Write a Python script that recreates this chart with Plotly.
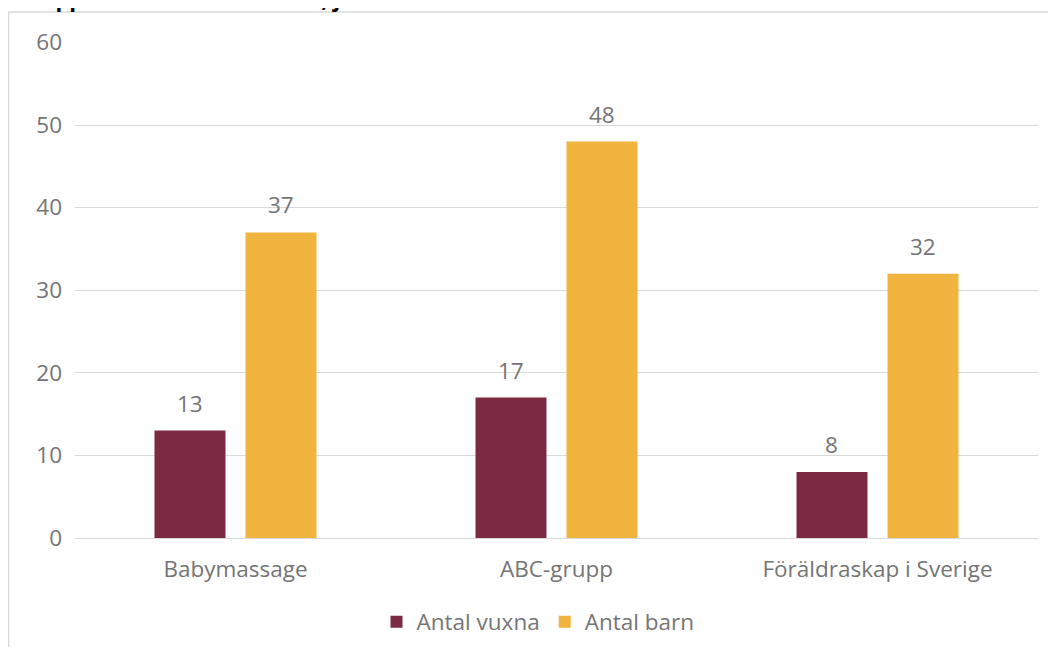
import plotly.graph_objects as go

categories = ["Babymassage", "ABC-grupp", "Föräldraskap i Sverige"]
vuxna = [13, 17, 8]
barn = [37, 48, 32]
series_names = ["Antal vuxna", "Antal barn"]
y_ticks = [0, 10, 20, 30, 40, 50, 60]
title_text = "Grupper och antal besökare, januari–mars 2024"

FONT = "'Open Sans', Lato, sans-serif"
GRAY = "#757575"
COLORS = ["#7B2A42", "#F1B43E"]
FS = 22.5

# page body has an 8px margin: figure sized/positioned to compensate
W, Hfig = 1040, 639
L, R, T, B = 67, 10, 34, 109
PW = W - L - R
PH = Hfig - T - B
BARGAP, GROUPGAP = 0.433, 0.22
slot = PW / len(categories) * (1 - BARGAP) / 2

fig = go.Figure()
for name, vals, col in [(series_names[0], vuxna, COLORS[0]), (series_names[1], barn, COLORS[1])]:
    fig.add_trace(go.Bar(x=categories, y=vals, name=name, marker_color=col,
                         marker_line_width=0))

annotations = []
for i, vals in enumerate([vuxna, barn]):
    shift = (i - 0.5) * slot
    for c, v in zip(categories, vals):
        annotations.append(dict(x=c, y=v, xref="x", yref="y", text=str(v), showarrow=False,
                                xshift=shift, yshift=10, yanchor="bottom",
                                font=dict(size=FS, color=GRAY, family=FONT)))

annotations.append(dict(text="<b>" + title_text + "</b>", xref="paper", yref="paper",
                        x=-62 / PW, xanchor="left", y=1 + 27 / PH, yanchor="bottom",
                        showarrow=False, font=dict(size=22, color="black", family=FONT)))

fig.update_layout(
    width=W, height=Hfig,
    paper_bgcolor="white", plot_bgcolor="white",
    margin=dict(l=L, r=R, t=T, b=B, autoexpand=False),
    barmode="group", bargap=BARGAP, bargroupgap=GROUPGAP,
    font=dict(family=FONT, color=GRAY, size=FS),
    showlegend=True,
    legend=dict(orientation="h", x=(530 - L) / PW, xanchor="center", y=-(614 - (T + PH)) / PH,
                yanchor="middle", font=dict(size=FS, color=GRAY, family=FONT),
                traceorder="normal"),
    yaxis=dict(range=[0, 60.05], tickvals=y_ticks, showgrid=True, gridcolor="#D9D9D9",
               gridwidth=1, zeroline=False, showline=False, ticks="", automargin=False,
               tickfont=dict(size=FS, color=GRAY, family=FONT), ticklabelstandoff=12),
    xaxis=dict(showline=True, linecolor="#D9D9D9", linewidth=1, ticks="", automargin=False,
               tickfont=dict(size=FS, color=GRAY, family=FONT), ticklabelstandoff=11),
    shapes=[dict(type="rect", xref="paper", yref="paper",
                 x0=-66.5 / PW, x1=1.05, y0=-0.3, y1=1 + 30 / PH,
                 line=dict(color="#D9D9D9", width=1.5), fillcolor="rgba(0,0,0,0)",
                 layer="below")],
    annotations=annotations,
)

fig.write_html("out.html")
